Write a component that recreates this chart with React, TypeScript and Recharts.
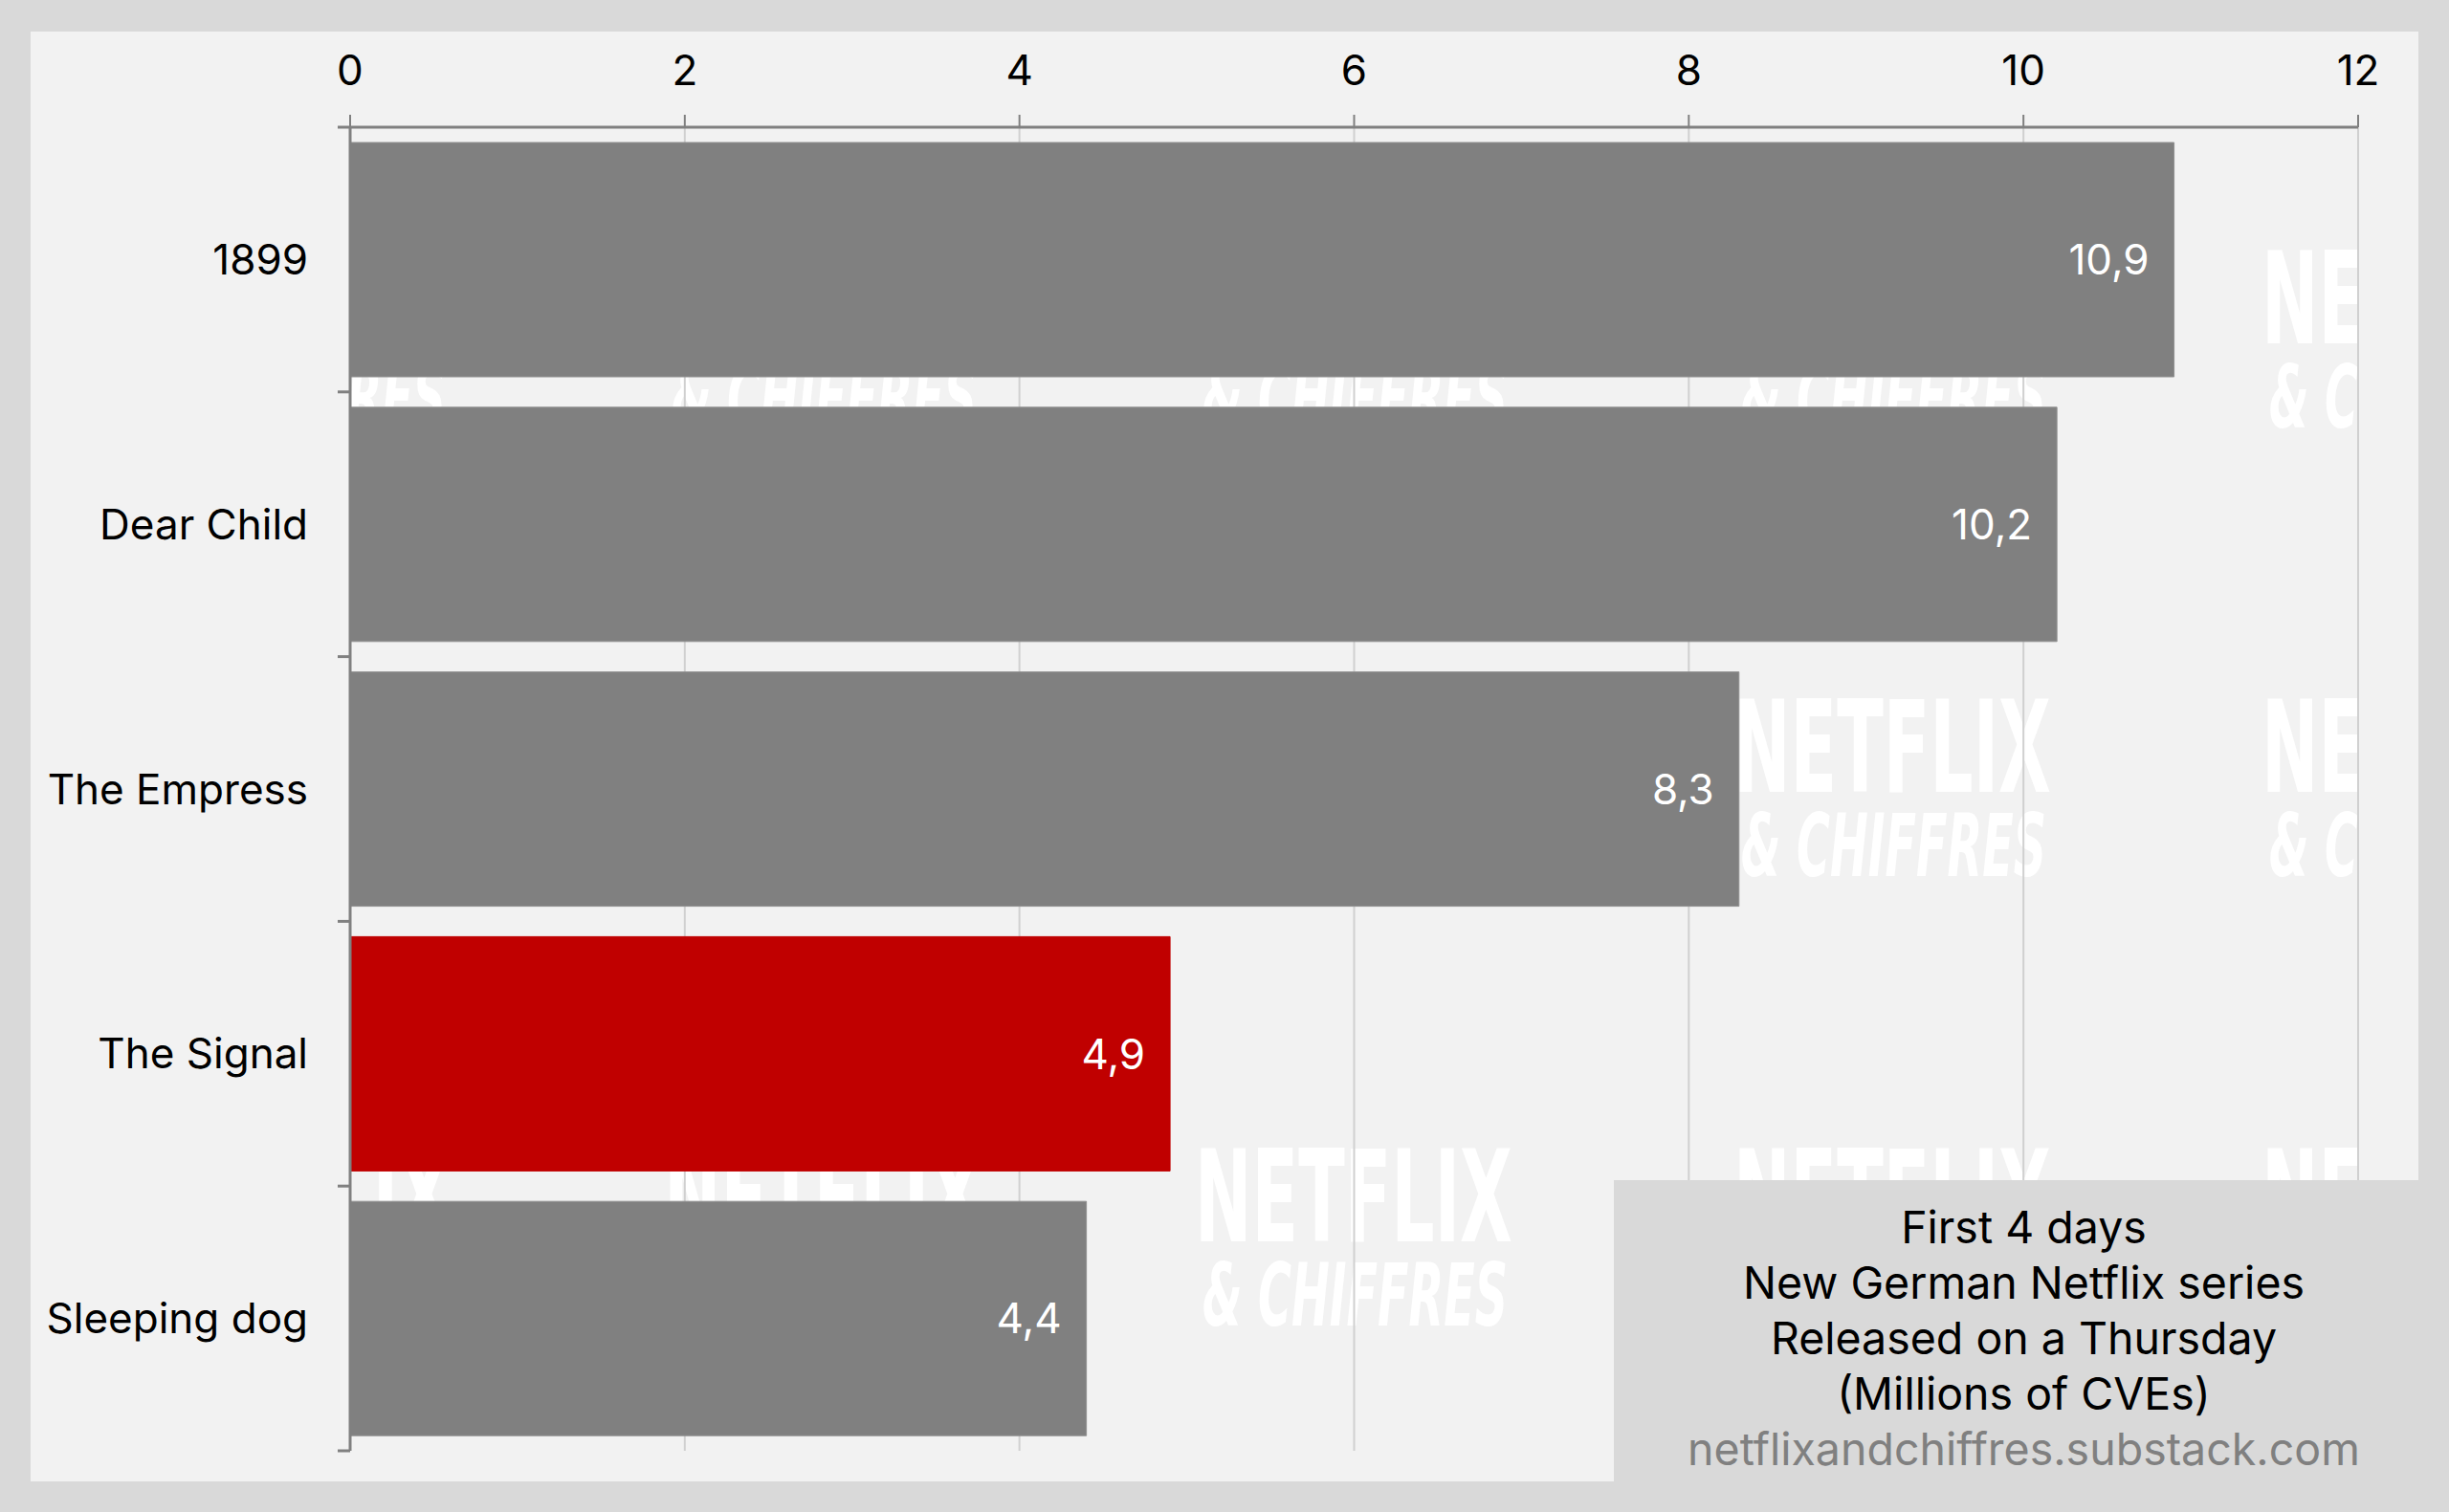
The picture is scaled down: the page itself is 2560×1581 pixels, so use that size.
import React from 'react';
import { BarChart, Bar, XAxis, YAxis, CartesianGrid, Cell, LabelList } from 'recharts';

const SERIES = ['1899', 'Dear Child', 'The Empress', 'The Signal', 'Sleeping dog'];
const CVES = [10.9, 10.2, 8.3, 4.9, 4.4];
const HIGHLIGHT = 'The Signal';
const X_TICKS = [0, 2, 4, 6, 8, 10, 12];
const NOTE_LINES = ['First 4 days', 'New German Netflix series', 'Released on a Thursday', '(Millions of CVEs)'];
const SOURCE = 'netflixandchiffres.substack.com';

const data = SERIES.map((name, i) => ({ name, value: CVES[i] }));

const W = 2560;
const H = 1581;
const FONT = 'Inter, "Noto Sans", sans-serif';
const AXIS = '#808080';
const LABEL_GAP = 44;

// watermark tiles (background decoration)
const WM_COLS = [139, 694, 1249, 1812, 2364];
const WM_ROWS = [359, 828, 1298];

const fmt = (v: number) => v.toFixed(1).replace('.', ',');

// category label + Excel-style tick marks on the band edges
const NameTick = (props: any) => {
  const { x, y, payload, index, visibleTicksCount } = props;
  const half = payload?.offset ?? 0;
  const ax = x + LABEL_GAP;
  const last = index === (visibleTicksCount ?? SERIES.length) - 1;
  return (
    <g>
      <line x1={ax - 13} x2={ax} y1={y - half} y2={y - half} stroke={AXIS} strokeWidth={3} />
      {last && <line x1={ax - 13} x2={ax} y1={y + half} y2={y + half} stroke={AXIS} strokeWidth={3} />}
      <text x={x} y={y} dy="0.355em" textAnchor="end" fill="#000000" fontSize={44} fontFamily={FONT}>
        {payload.value}
      </text>
    </g>
  );
};

function Watermark() {
  return (
    <svg width={W} height={H} style={{ position: 'absolute', left: 0, top: 0 }}>
      <defs>
        <clipPath id="plotClip">
          <rect x={366} y={133} width={2099} height={1384} />
        </clipPath>
      </defs>
      <g clipPath="url(#plotClip)" fill="#ffffff">
        {WM_ROWS.map((y) =>
          WM_COLS.map((x) => (
            <g key={`${x}-${y}`}>
              <text x={x} y={y} fontFamily='"DejaVu Sans Condensed", "DejaVu Sans", sans-serif' fontWeight={700}
                fontSize={134} textLength={332} lengthAdjust="spacingAndGlyphs">NETFLIX</text>
              <text x={x + 8} y={y + 88} fontFamily='"DejaVu Sans Condensed", "DejaVu Sans", sans-serif' fontWeight={700}
                fontStyle="italic" fontSize={90} textLength={319} lengthAdjust="spacingAndGlyphs">&amp; CHIFFRES</text>
            </g>
          ))
        )}
      </g>
    </svg>
  );
}

export default function App() {
  return (
    <div style={{ position: 'absolute', left: 0, top: 0, width: W, height: H, background: '#d9d9d9', fontFamily: FONT }}>
      <div style={{ position: 'absolute', left: 32, top: 33, width: 2496, height: 1516, background: '#f2f2f2' }} />
      <Watermark />
      <div style={{ position: 'absolute', left: 0, top: 0 }}>
        <BarChart
          width={W}
          height={H}
          data={data}
          layout="vertical"
          margin={{ top: 73, right: 95, bottom: 64, left: 66 }}
        >
          <CartesianGrid horizontal={false} stroke="#d0d0d0" strokeWidth={2} />
          <XAxis
            type="number"
            orientation="top"
            domain={[0, 12]}
            ticks={X_TICKS}
            height={60}
            tickSize={13}
            tickMargin={31}
            axisLine={{ stroke: AXIS, strokeWidth: 3 }}
            tickLine={{ stroke: AXIS, strokeWidth: 2 }}
            tick={{ fill: '#000000', fontSize: 44, fontFamily: FONT }}
          />
          <YAxis
            type="category"
            dataKey="name"
            width={300}
            axisLine={{ stroke: AXIS, strokeWidth: 3 }}
            tickLine={false}
            tickSize={0}
            tickMargin={LABEL_GAP}
            tick={<NameTick />}
          />
          <Bar dataKey="value" barSize={245} isAnimationActive={false} strokeWidth={1}>
            {data.map((d) => (
              <Cell key={d.name} fill={d.name === HIGHLIGHT ? '#c00000' : '#808080'} stroke={d.name === HIGHLIGHT ? '#c00000' : '#909090'} />
            ))}
            <LabelList
              dataKey="value"
              position="insideRight"
              offset={26}
              formatter={(v: number) => fmt(v)}
              style={{ fill: '#ffffff', fontSize: 44, fontFamily: FONT }}
            />
          </Bar>
        </BarChart>
      </div>
      <div
        style={{
          position: 'absolute', left: 1687, top: 1234, width: 841, height: 315, background: '#d9d9d9',
          boxSizing: 'border-box', paddingTop: 20, paddingLeft: 16, textAlign: 'center', fontSize: 46.5, lineHeight: '58px',
        }}
      >
        {NOTE_LINES.map((l) => (
          <div key={l} style={{ color: '#000000' }}>{l}</div>
        ))}
        <div style={{ color: '#808080' }}>{SOURCE}</div>
      </div>
    </div>
  );
}
